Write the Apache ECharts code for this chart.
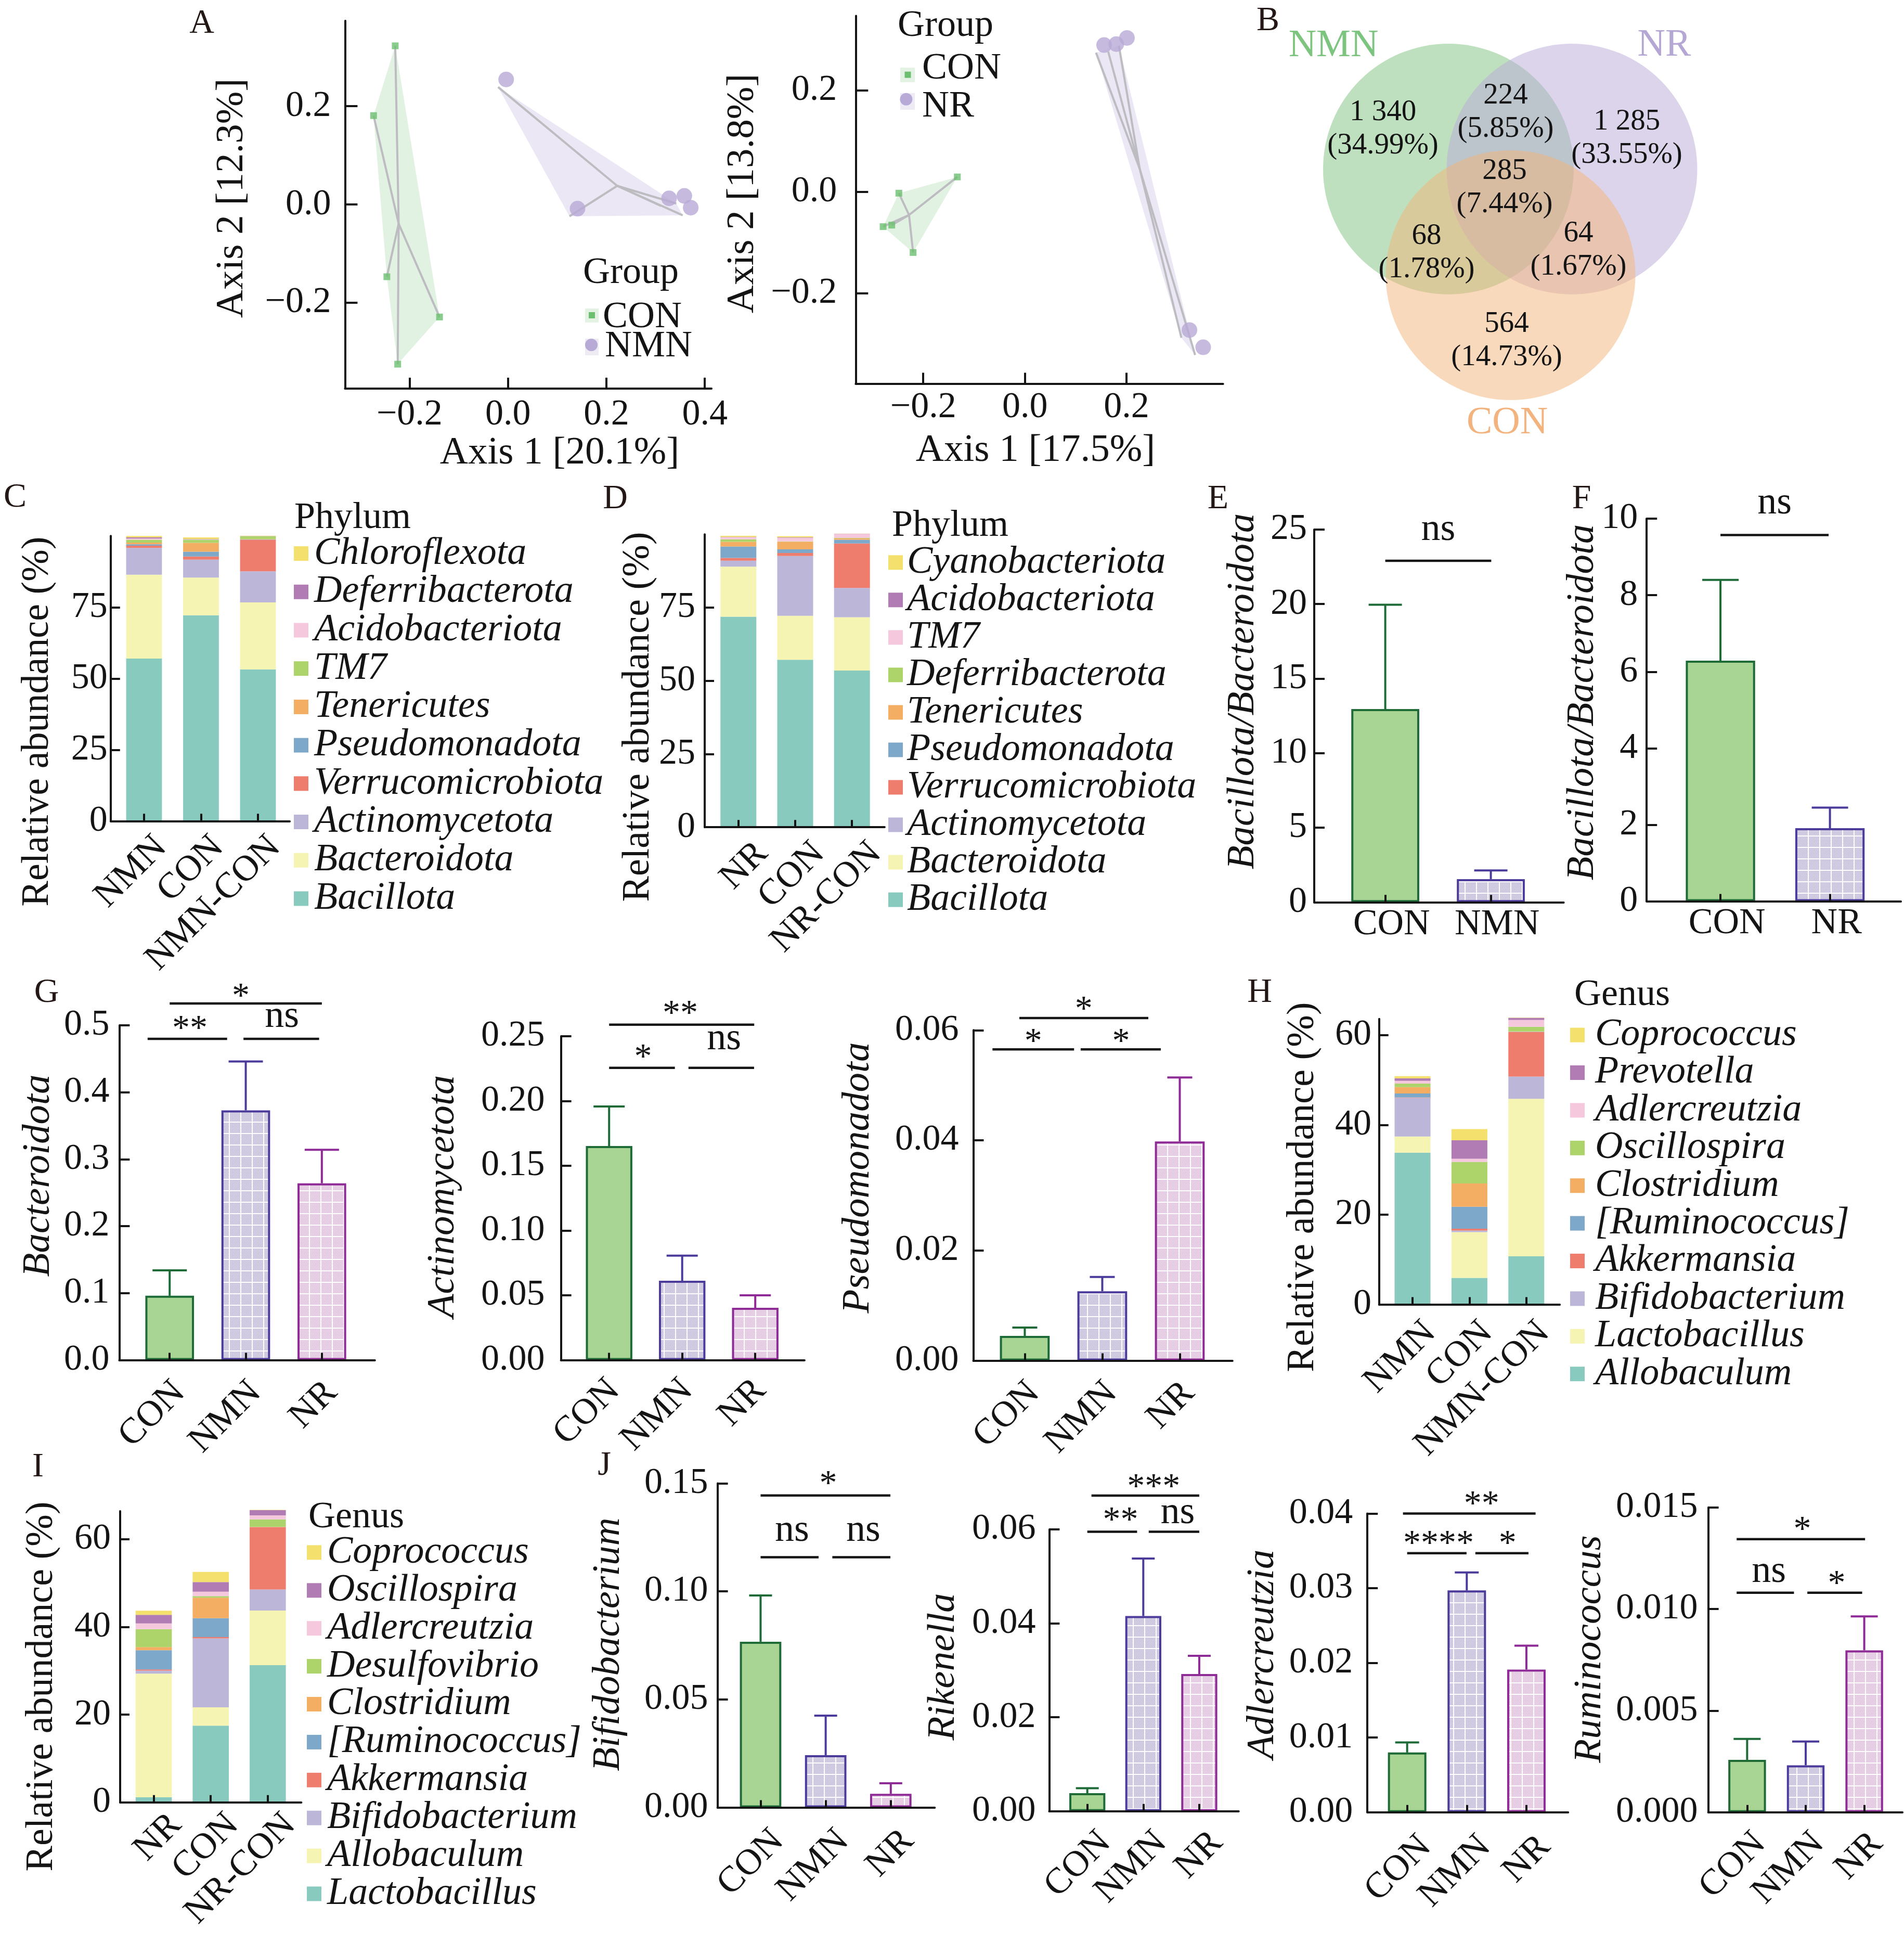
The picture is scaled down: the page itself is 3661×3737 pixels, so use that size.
<!DOCTYPE html>
<html><head><meta charset="utf-8"><title>Figure</title>
<script src="https://cdn.jsdelivr.net/npm/echarts@6/dist/echarts.min.js"></script>
<style>html,body{margin:0;padding:0;background:#fff;}#chart{width:3661px;height:3737px;}</style>
</head><body><div id="chart"></div>
<script>
// ===================== DATA =====================
// Panel A – PCoA coordinates [Axis 1, Axis 2]
const pcoaNmnCON = [[-0.229,0.323],[-0.273,0.181],[-0.246,-0.147],[-0.139,-0.229],[-0.224,-0.325]];
const pcoaNmnNMN = [[-0.020,0.239],[0.125,-0.024],[0.311,-0.003],[0.342,0.002],[0.355,-0.022]];
const pcoaNmnCentroids = [[-0.222,-0.039],[0.222,0.038]];
const pcoaNrCON = [[-0.248,-0.003],[-0.279,-0.069],[-0.262,-0.066],[-0.220,-0.120],[-0.133,0.029]];
const pcoaNrNR = [[0.140,0.274],[0.164,0.276],[0.185,0.288],[0.308,-0.288],[0.335,-0.322]];
const pcoaNrCentroids = [[-0.228,-0.046],[0.226,0.045]];
const pcoaXTicksA1 = [-0.2,0,0.2,0.4];
const pcoaXTicksA2 = [-0.2,0,0.2];
const pcoaYTicks = [-0.2,0,0.2];

// Panel B – Venn
const vennSets = ['NMN','NR','CON'];
const vennCounts = ['1 340','224','1 285','285','68','64','564'];
const vennShares = ['(34.99%)','(5.85%)','(33.55%)','(7.44%)','(1.78%)','(1.67%)','(14.73%)'];

// Panel C – phylum composition (bottom -> top)
const phylaC = ['Bacillota','Bacteroidota','Actinomycetota','Verrucomicrobiota','Pseudomonadota','Tenericutes','TM7','Acidobacteriota','Deferribacterota','Chloroflexota'];
const groupsC = ['NMN','CON','NMN-CON'];
const phylumC_NMN    = [57.0,29.4,9.4,0.8,0.5,0.6,1.0,0.4,0.4,0.5];
const phylumC_CON    = [72.2,13.2,6.3,1.1,1.7,3.1,1.1,0.1,0.1,0.6];
const phylumC_NMNCON = [53.2,23.5,10.9,11.1,0.1,0.1,1.0,0.05,0.05,0.1];

// Panel D – phylum composition (bottom -> top)
const phylaD = ['Bacillota','Bacteroidota','Actinomycetota','Verrucomicrobiota','Pseudomonadota','Tenericutes','Deferribacterota','TM7','Acidobacteriota','Cyanobacteriota'];
const groupsD = ['NR','CON','NR-CON'];
const phylumD_NR    = [71.9,17.1,2.0,0.95,3.9,1.6,0.85,0.7,0.1,0.4];
const phylumD_CON   = [57.2,15.0,20.4,1.05,1.25,2.6,0.1,1.25,0.1,0.4];
const phylumD_NRCON = [53.5,18.2,10.0,15.2,1.25,0.5,0.15,1.35,0.05,0.05];

// Panels E, F – Bacillota/Bacteroidota ratio (mean, upper end of error bar)
const ratioEGroups = ['CON','NMN'];
const ratioE = [12.96,1.55];
const ratioEUpper = [19.95,2.13];
const ratioFGroups = ['CON','NR'];
const ratioF = [6.29,1.91];
const ratioFUpper = [8.40,2.45];

// Panel G – phylum abundances
const barGroups = ['CON','NMN','NR'];
const bacteroidota = [0.096,0.373,0.264];
const bacteroidotaUpper = [0.134,0.446,0.314];
const actinomycetota = [0.1652,0.0612,0.0403];
const actinomycetotaUpper = [0.1958,0.0806,0.0500];
const pseudomonadota = [0.0045,0.0126,0.0398];
const pseudomonadotaUpper = [0.0060,0.0152,0.0514];

// Panel H – genus composition (bottom -> top)
const generaH = ['Allobaculum','Lactobacillus','Bifidobacterium','Akkermansia','[Ruminococcus]','Clostridium','Oscillospira','Adlercreutzia','Prevotella','Coprococcus'];
const groupsH = ['NMN','CON','NMN-CON'];
const genusH_NMN    = [33.8,3.6,8.6,0.1,0.9,1.4,0.8,0.6,0.55,0.5];
const genusH_CON    = [5.9,10.2,0.35,0.4,4.9,5.2,4.8,0.7,4.1,2.5];
const genusH_NMNCON = [10.7,35.1,4.95,9.95,0.05,0.05,1.05,1.5,0.5,0.05];

// Panel I – genus composition (bottom -> top)
const generaI = ['Lactobacillus','Allobaculum','Bifidobacterium','Akkermansia','[Ruminococcus]','Clostridium','Desulfovibrio','Adlercreutzia','Oscillospira','Coprococcus'];
const groupsI = ['NR','CON','NR-CON'];
const genusI_NR    = [1.16,28.2,0.7,0.25,4.4,0.7,4.1,1.3,1.95,0.95];
const genusI_CON   = [17.5,4.2,15.7,0.3,4.3,4.7,0.35,1.0,2.2,2.3];
const genusI_NRCON = [31.3,12.45,4.8,14.2,0.05,0.05,1.7,0.9,1.2,0.05];

// Panel J – genus abundances
const bifidobacterium = [0.0767,0.0242,0.0063];
const bifidobacteriumUpper = [0.0981,0.0425,0.0112];
const rikenella = [0.00385,0.04155,0.0292];
const rikenellaUpper = [0.0049,0.0538,0.0331];
const adlercreutzia = [0.0080,0.0297,0.0191];
const adlercreutziaUpper = [0.00935,0.0321,0.0223];
const ruminococcus = [0.00258,0.00231,0.00797];
const ruminococcusUpper = [0.00361,0.00348,0.00964];

// Significance brackets: [x from, x to, y of line, label, label x, label y]
const sigE  = [[0,1.004,22.9,'ns',0.502,24.69]];
const sigF  = [[0,0.988,9.573,'ns',0.494,10.28]];
const sigG1 = [[0,2,0.5326,'*',0.935,0.554],[-0.29,0.755,0.4797,'**',0.265,0.506],[0.97,1.964,0.4797,'ns',1.475,0.506]];
const sigG2 = [[0,1.986,0.2589,'**',0.974,0.2729],[0,0.9,0.2256,'*',0.465,0.2392],[1.086,1.984,0.2256,'ns',1.572,0.2443]];
const sigG3 = [[-0.07,1.594,0.0622,'*',0.76,0.0651],[-0.417,0.636,0.0565,'*',0.11,0.0592],[0.721,1.755,0.0565,'*',1.242,0.0592]];
const sigJ1 = [[0,1.994,0.1444,'*',1.038,0.1532],[0,0.891,0.1158,'ns',0.483,0.126],[1.102,1.994,0.1158,'ns',1.578,0.126]];
const sigJ2 = [[0.074,2.0,0.0672,'***',1.185,0.0706],[0,0.889,0.0595,'**',0.593,0.0635],[1.097,2.0,0.0595,'ns',1.615,0.0625]];
const sigJ3 = [[-0.07,2.154,0.04,'**',1.249,0.0422],[0,0.996,0.03468,'****',0.527,0.0369],[1.144,2.035,0.03468,'*',1.684,0.0369]];
const sigJ4 = [[-0.179,2.014,0.01344,'*',0.943,0.01427],[-0.179,0.8,0.0108,'ns',0.371,0.01161],[1.028,1.964,0.0108,'*',1.528,0.01161]];

// ===================== STYLE / LAYOUT =====================
const FONT = '"Liberation Serif","Times New Roman",serif';
const TXT = '#141414';
const AX = '#141414';
const LW = 4;
const stackPalette = ['#88cbbe','#f6f4b3','#bcb6d8','#ee7d6e','#7ea8c9','#f3ae63','#add36b','#f6c8de','#b07cb3','#f4e06c'];

function makePattern(base, dot) {
  const s = 22, c = document.createElement('canvas'); c.width = s; c.height = s;
  const g = c.getContext('2d');
  g.fillStyle = base; g.fillRect(0, 0, s, s);
  g.fillStyle = dot;
  for (let y = 3, r = 0; y < s; y += 3, r++) for (let x = 3 + (r % 2); x < s; x += 3) g.fillRect(x, y, 1, 1);
  g.fillStyle = '#ffffff'; g.fillRect(0, 0, s, 2); g.fillRect(0, 0, 2, s);
  return { image: c, repeat: 'repeat' };
}
const barStyles = {
  con: { color: '#a8d594', borderColor: '#1e6b38', borderWidth: 4 },
  nmn: { color: makePattern('#d3cde4', '#bdb5d6'), borderColor: '#4c3b9b', borderWidth: 4 },
  nr:  { color: makePattern('#e8d0e6', '#d6b8d5'), borderColor: '#8e2b96', borderWidth: 4 }
};

const option = {
  animation: false, backgroundColor: '#ffffff', textStyle: { fontFamily: FONT },
  grid: [], xAxis: [], yAxis: [], series: [], legend: [], graphic: { elements: [] }
};
const GR = option.graphic.elements;

function addGrid(r) {
  option.grid.push({ left: r[0], top: r[1], width: r[2], height: r[3], containLabel: false, outerBoundsMode: 'none' });
  return option.grid.length - 1;
}
function fmtDec(d) { return v => (v < -1e-9 ? '\u2212' : '') + Math.abs(v).toFixed(d); }
function numAxis(gi, dim, range, ticks, dec, margin, tickLen) {
  return { type: 'value', gridIndex: gi, min: range[0], max: range[1], position: dim === 'x' ? 'bottom' : 'left', z: 10,
    axisLine: { show: true, onZero: false, lineStyle: { color: AX, width: LW } },
    axisTick: { show: true, inside: true, length: tickLen, customValues: ticks, lineStyle: { color: AX, width: LW } },
    axisLabel: { show: true, customValues: ticks, margin: margin, formatter: fmtDec(dec), fontFamily: FONT, fontSize: 70, color: TXT },
    splitLine: { show: false } };
}
function catAxis(gi, P) {
  const sh = P.xShift, idx = P.cats.map((c, i) => i);
  return { type: 'value', gridIndex: gi, min: P.xr[0], max: P.xr[1], position: 'bottom', z: 10,
    axisLine: { show: true, onZero: false, lineStyle: { color: AX, width: LW } },
    axisTick: { show: true, inside: true, length: 14, customValues: idx, lineStyle: { color: AX, width: LW } },
    axisLabel: { show: true, customValues: idx.map(i => i + sh), formatter: v => P.cats[Math.round(v - sh)],
      margin: P.xlm, rotate: P.rotate, fontFamily: FONT, fontSize: 70, color: TXT },
    splitLine: { show: false } };
}
function gtext(x, y, text, fs, o) {
  o = o || {};
  const al = o.align || 'center';
  GR.push({ type: 'text', x: x, y: y, rotation: o.rot || 0, silent: true, z: 20,
    style: { text: text, font: (o.italic ? 'italic ' : '') + fs + 'px ' + FONT, fill: o.color || TXT,
      textAlign: al, textVerticalAlign: 'middle', align: al, verticalAlign: 'middle' } });
}
function convexHull(pts) {
  const p = pts.slice().sort((a, b) => a[0] - b[0] || a[1] - b[1]);
  const cr = (o, a, b) => (a[0] - o[0]) * (b[1] - o[1]) - (a[1] - o[1]) * (b[0] - o[0]);
  const lo = [], up = [];
  for (const q of p) { while (lo.length >= 2 && cr(lo[lo.length - 2], lo[lo.length - 1], q) <= 0) lo.pop(); lo.push(q); }
  for (let i = p.length - 1; i >= 0; i--) { const q = p[i]; while (up.length >= 2 && cr(up[up.length - 2], up[up.length - 1], q) <= 0) up.pop(); up.push(q); }
  up.pop(); lo.pop(); return lo.concat(up);
}

// ---------- PCoA panels ----------
function pcoaPanel(P) {
  const gi = addGrid(P.rect);
  option.xAxis.push(numAxis(gi, 'x', P.xr, P.xticks, 1, P.xlm, 21));
  option.yAxis.push(numAxis(gi, 'y', P.yr, pcoaYTicks, 1, P.ylm, 24));
  const groups = [
    { pts: P.con, cen: P.cen[0], fill: 'rgba(108,191,112,0.20)' },
    { pts: P.trt, cen: P.cen[1], fill: 'rgba(184,170,214,0.28)' }];
  option.series.push({ type: 'custom', xAxisIndex: gi, yAxisIndex: gi, clip: false, silent: true, z: 2,
    data: P.cen,
    renderItem: (params, api) => {
      const g = groups[params.dataIndex];
      const px = g.pts.map(p => api.coord(p));
      const c = api.coord(g.cen);
      const ch = [{ type: 'polygon', shape: { points: convexHull(px) }, style: { fill: g.fill } }];
      px.forEach(p => ch.push({ type: 'line', shape: { x1: c[0], y1: c[1], x2: p[0], y2: p[1] }, style: { stroke: '#bcbcc1', lineWidth: 4 } }));
      return { type: 'group', children: ch };
    } });
  option.series.push({ type: 'scatter', xAxisIndex: gi, yAxisIndex: gi, symbol: 'rect', symbolSize: 13, silent: true, z: 4,
    itemStyle: { color: '#6cbf70' }, data: P.con });
  option.series.push({ type: 'scatter', xAxisIndex: gi, yAxisIndex: gi, symbol: 'circle', symbolSize: 30, symbolOffset: [15.5, -14.7], silent: true, z: 4,
    itemStyle: { color: '#b8aad6' }, data: P.trt });
}
pcoaPanel({ rect: [663.4, 39.9, 704.6, 707], xr: [-0.331, 0.4135], yr: [-0.3746, 0.374], xticks: pcoaXTicksA1, xlm: 16, ylm: 27,
  con: pcoaNmnCON, trt: pcoaNmnNMN, cen: pcoaNmnCentroids });
pcoaPanel({ rect: [1645.3, 30.5, 706.4, 707], xr: [-0.333, 0.390], yr: [-0.3786, 0.3466], xticks: pcoaXTicksA2, xlm: 11, ylm: 36,
  con: pcoaNrCON, trt: pcoaNrNR, cen: pcoaNrCentroids });

// PCoA legends
function pcoaLegend(L) {
  gtext(L.gx, L.gy, 'Group', 72, { align: 'left' });
  GR.push({ type: 'rect', shape: { x: L.p1[0], y: L.p1[1], width: L.p1[2], height: L.p1[3] }, style: { fill: '#e3f2e3' }, silent: true });
  GR.push({ type: 'rect', shape: { x: L.s1[0] - 6, y: L.s1[1] - 6, width: 12, height: 12 }, style: { fill: '#6cbf70' }, silent: true });
  gtext(L.t1[0], L.t1[1], 'CON', 72, { align: 'left' });
  GR.push({ type: 'rect', shape: { x: L.p2[0], y: L.p2[1], width: L.p2[2], height: L.p2[3] }, style: { fill: '#eeebf5' }, silent: true });
  GR.push({ type: 'circle', shape: { cx: L.s2[0], cy: L.s2[1], r: 12 }, style: { fill: '#b8aad6' }, silent: true });
  gtext(L.t2[0], L.t2[1], L.name2, 72, { align: 'left' });
}
pcoaLegend({ gx: 1121, gy: 525, p1: [1125, 593, 26, 27], s1: [1138, 606], t1: [1159, 610], p2: [1125, 651, 26, 32], s2: [1137, 663], t2: [1163, 666], name2: 'NMN' });
pcoaLegend({ gx: 1726, gy: 50, p1: [1731, 130, 28, 28], s1: [1745.5, 143.7], t1: [1773, 132], p2: [1731, 179, 28, 32], s2: [1742.4, 190.7], t2: [1773, 205], name2: 'NR' });

// ---------- Venn (panel B) ----------
(function () {
  const gi = addGrid([2400, 0, 1261, 920]);
  option.xAxis.push({ type: 'value', gridIndex: gi, min: 0, max: 1261, show: false });
  option.yAxis.push({ type: 'value', gridIndex: gi, min: 0, max: 920, inverse: true, show: false });
  const circles = [[385, 325, 241], [622.5, 325, 241], [504.5, 529, 240]];
  const fills = ['rgba(126,194,126,0.5)', 'rgba(185,170,215,0.5)', 'rgba(244,180,120,0.5)'];
  option.series.push({ type: 'custom', xAxisIndex: gi, yAxisIndex: gi, clip: false, silent: true, z: 2,
    data: circles,
    renderItem: (p, api) => {
      const c = api.coord([api.value(0), api.value(1)]);
      const r = api.size([api.value(2), 0])[0];
      return { type: 'circle', shape: { cx: c[0], cy: c[1], r: r }, style: { fill: fills[p.dataIndex] } };
    } });
  const labelPos = [[259, 248], [495, 216], [728, 266], [493, 361], [343, 486], [635, 481], [497, 655]];
  option.series.push({ type: 'custom', xAxisIndex: gi, yAxisIndex: gi, clip: false, silent: true, z: 3,
    data: labelPos,
    renderItem: (p, api) => {
      const c = api.coord([api.value(0), api.value(1)]);
      const i = p.dataIndex;
      return { type: 'group', children: [
        { type: 'text', x: c[0], y: c[1] - 32, style: { text: vennCounts[i], font: '57px ' + FONT, fill: TXT, textAlign: 'center', textVerticalAlign: 'middle', align: 'center', verticalAlign: 'middle' } },
        { type: 'text', x: c[0], y: c[1] + 32, style: { text: vennShares[i], font: '57px ' + FONT, fill: TXT, textAlign: 'center', textVerticalAlign: 'middle', align: 'center', verticalAlign: 'middle' } }] };
    } });
  const setPos = [[164, 89], [800, 88], [498, 814]];
  const setColors = ['#7dc47f', '#b4a7d4', '#f3b37e'];
  option.series.push({ type: 'custom', xAxisIndex: gi, yAxisIndex: gi, clip: false, silent: true, z: 3,
    data: setPos,
    renderItem: (p, api) => {
      const c = api.coord([api.value(0), api.value(1)]);
      return { type: 'text', x: c[0], y: c[1], style: { text: vennSets[p.dataIndex], font: '74px ' + FONT, fill: setColors[p.dataIndex], textAlign: 'center', textVerticalAlign: 'middle', align: 'center', verticalAlign: 'middle' } };
    } });
})();

// ---------- stacked composition panels ----------
const LEG_FS = 74;
function addLegend(names, colors, left, firstCenter, spacing, padL) {
  option.legend.push({ show: true, orient: 'vertical', left: left, top: firstCenter - LEG_FS / 2, padding: 0,
    width: 900, height: spacing * 10 + 40,
    itemWidth: 28, itemHeight: 28, itemGap: spacing - LEG_FS, icon: 'rect', selectedMode: false,
    textStyle: { fontFamily: FONT, fontSize: LEG_FS, fontStyle: 'italic', color: TXT, padding: [0, 0, 0, padL] },
    data: names.map((n, i) => ({ name: n, icon: 'rect', itemStyle: { color: colors[i] } })) });
}
function stackPanel(P) {
  const gi = addGrid(P.rect);
  option.xAxis.push(catAxis(gi, P));
  option.yAxis.push(numAxis(gi, 'y', P.yr, P.yticks, 0, P.ylm, 18));
  P.taxa.forEach((t, k) => {
    const col = stackPalette[k];
    option.series.push({ type: 'custom', name: t + P.sfx, xAxisIndex: gi, yAxisIndex: gi, silent: true, z: 2, clip: false,
      itemStyle: { color: col },
      // [group index, segment value, segment base = sum of the segments below it]
      data: P.values.map((c, i) => [i, c[k], c.slice(0, k).reduce((a, b) => a + b, 0)]),
      renderItem: (p, api) => {
        const x = api.value(0), v = api.value(1), b = api.value(2);
        const top = api.coord([x, b + v]), bot = api.coord([x, b]);
        return { type: 'rect', shape: { x: top[0] - P.barW / 2, y: top[1], width: P.barW, height: bot[1] - top[1] }, style: { fill: col } };
      } });
  });
  const rev = P.taxa.map((t, k) => k).reverse();
  addLegend(rev.map(k => P.taxa[k] + P.sfx), rev.map(k => stackPalette[k]), P.leg[0], P.leg[1], P.leg[2], P.leg[3]);
  gtext(P.title[0], P.title[1], P.title[2], 72, { align: 'left' });
}
stackPanel({ rect: [212.8, 1030.3, 344.2, 548], xr: [-0.586, 2.557], yr: [0, 100], yticks: [0, 25, 50, 75], ylm: 6,
  cats: groupsC, xShift: 0.3, xlm: 40, rotate: 45, barW: 68.8, taxa: phylaC, sfx: '',
  values: [phylumC_NMN, phylumC_CON, phylumC_NMNCON], leg: [565, 1064.1, 73.7, 6], title: [566, 996, 'Phylum'] });
stackPanel({ rect: [1355, 1027.2, 345.9, 563], xr: [-0.593, 2.574], yr: [0, 100], yticks: [0, 25, 50, 75], ylm: 18,
  cats: groupsD, xShift: 0.42, xlm: 40, rotate: 45, barW: 69, taxa: phylaD, sfx: '\u200b',
  values: [phylumD_NR, phylumD_CON, phylumD_NRCON], leg: [1708, 1081.3, 72.03, 3], title: [1715, 1011, 'Phylum'] });
stackPanel({ rect: [2651.7, 1958.7, 347.4, 548.7], xr: [-0.588, 2.588], yr: [0, 63.6], yticks: [0, 20, 40, 60], ylm: 14.7,
  cats: groupsH, xShift: 0.31, xlm: 44, rotate: 45, barW: 69, taxa: generaH, sfx: '',
  values: [genusH_NMN, genusH_CON, genusH_NMNCON], leg: [3019, 1989.6, 72.4, 15], title: [3027, 1913.5, 'Genus'] });
stackPanel({ rect: [231, 2905.1, 348.4, 559.7], xr: [-0.589, 2.589], yr: [0, 66.4], yticks: [0, 20, 40, 60], ylm: 18,
  cats: groupsI, xShift: 0.39, xlm: 33, rotate: 45, barW: 69.6, taxa: generaI, sfx: '\u200b',
  values: [genusI_NR, genusI_CON, genusI_NRCON], leg: [590, 2984.4, 72.9, 6], title: [593, 2917, 'Genus'] });

// ---------- bar + error + significance panels ----------
function barPanel(P) {
  const gi = addGrid(P.rect);
  option.xAxis.push(catAxis(gi, P));
  option.yAxis.push(numAxis(gi, 'y', P.yr, P.yticks, P.dec, P.ylm, 20));
  option.series.push({ type: 'bar', xAxisIndex: gi, yAxisIndex: gi, barWidth: P.barW, silent: true, z: 2,
    data: P.vals.map((v, i) => ({ value: [i, v], itemStyle: barStyles[P.styles[i]] })) });
  option.series.push({ type: 'custom', xAxisIndex: gi, yAxisIndex: gi, clip: false, silent: true, z: 4,
    data: P.vals.map((v, i) => [i, v, P.upper[i]]),
    renderItem: (p, api) => {
      const a = api.coord([api.value(0), api.value(1)]);
      const b = api.coord([api.value(0), api.value(2)]);
      const col = barStyles[P.styles[p.dataIndex]].borderColor, w = P.capW / 2;
      return { type: 'group', children: [
        { type: 'line', shape: { x1: a[0], y1: a[1], x2: b[0], y2: b[1] }, style: { stroke: col, lineWidth: 4 } },
        { type: 'line', shape: { x1: b[0] - w, y1: b[1], x2: b[0] + w, y2: b[1] }, style: { stroke: col, lineWidth: 4 } }] };
    } });
  option.series.push({ type: 'custom', xAxisIndex: gi, yAxisIndex: gi, clip: false, silent: true, z: 4,
    data: P.sig.map(s => [s[0], s[2]]),
    renderItem: (p, api) => {
      const s = P.sig[p.dataIndex];
      const p1 = api.coord([s[0], s[2]]), p2 = api.coord([s[1], s[2]]), t = api.coord([s[4], s[5]]);
      const star = s[3].indexOf('*') >= 0, fs = star ? 68 : 74;
      const ty = star ? t[1] + 0.23 * fs : t[1] - 0.115 * fs;
      return { type: 'group', children: [
        { type: 'line', shape: { x1: p1[0], y1: p1[1], x2: p2[0], y2: p2[1] }, style: { stroke: AX, lineWidth: 4.5 } },
        { type: 'text', x: t[0], y: ty, style: { text: s[3], font: fs + 'px ' + FONT, fill: TXT, textAlign: 'center', textVerticalAlign: 'middle', align: 'center', verticalAlign: 'middle' } }] };
    } });
}
barPanel({ rect: [2527, 1017.9, 479.6, 716.4], xr: [-0.673, 1.690], yr: [0, 25], yticks: [0, 5, 10, 15, 20, 25], dec: 0, ylm: 14,
  cats: ratioEGroups, xShift: 0.06, xlm: 8, rotate: 0, styles: ['con', 'nmn'], vals: ratioE, upper: ratioEUpper, barW: 130.7, capW: 64, sig: sigE });
barPanel({ rect: [3166.2, 997.1, 488.8, 735.5], xr: [-0.674, 1.648], yr: [0, 10], yticks: [0, 2, 4, 6, 8, 10], dec: 0, ylm: 17,
  cats: ratioFGroups, xShift: 0.06, xlm: 8, rotate: 0, styles: ['con', 'nmn'], vals: ratioF, upper: ratioFUpper, barW: 133.3, capW: 70, sig: sigF });
barPanel({ rect: [229.4, 1971, 491.4, 643.4], xr: [-0.662, 2.697], yr: [0, 0.5], yticks: [0, 0.1, 0.2, 0.3, 0.4, 0.5], dec: 1, ylm: 19,
  cats: barGroups, xShift: 0.13, xlm: 52, rotate: 45, styles: ['con', 'nmn', 'nr'], vals: bacteroidota, upper: bacteroidotaUpper, barW: 93.6, capW: 66, sig: sigG1 });
barPanel({ rect: [1078.6, 1992, 468.3, 622.4], xr: [-0.659, 2.674], yr: [0, 0.25], yticks: [0, 0.05, 0.1, 0.15, 0.2, 0.25], dec: 2, ylm: 31,
  cats: barGroups, xShift: 0.07, xlm: 48, rotate: 45, styles: ['con', 'nmn', 'nr'], vals: actinomycetota, upper: actinomycetotaUpper, barW: 89.4, capW: 60, sig: sigG2 });
barPanel({ rect: [1871.5, 1980.3, 498.3, 635.3], xr: [-0.664, 2.68], yr: [0, 0.06], yticks: [0, 0.02, 0.04, 0.06], dec: 2, ylm: 28,
  cats: barGroups, xShift: 0.12, xlm: 52, rotate: 45, styles: ['con', 'nmn', 'nr'], vals: pseudomonadota, upper: pseudomonadotaUpper, barW: 95.7, capW: 48, sig: sigG3 });
barPanel({ rect: [1379.6, 2851.4, 417.7, 623.1], xr: [-0.662, 2.675], yr: [0, 0.15], yticks: [0, 0.05, 0.1, 0.15], dec: 2, ylm: 18,
  cats: barGroups, xShift: 0.27, xlm: 54, rotate: 45, styles: ['con', 'nmn', 'nr'], vals: bifidobacterium, upper: bifidobacteriumUpper, barW: 79.7, capW: 44, sig: sigJ1 });
barPanel({ rect: [2017.4, 2940, 364.3, 541.8], xr: [-0.681, 2.704], yr: [0, 0.06], yticks: [0, 0.02, 0.04, 0.06], dec: 2, ylm: 26,
  cats: barGroups, xShift: 0.32, xlm: 50, rotate: 45, styles: ['con', 'nmn', 'nr'], vals: rikenella, upper: rikenellaUpper, barW: 69.3, capW: 44, sig: sigJ2 });
barPanel({ rect: [2629.2, 2909.4, 386, 574.3], xr: [-0.667, 2.70], yr: [0, 0.04], yticks: [0, 0.01, 0.02, 0.03, 0.04], dec: 2, ylm: 28,
  cats: barGroups, xShift: 0.31, xlm: 56, rotate: 45, styles: ['con', 'nmn', 'nr'], vals: adlercreutzia, upper: adlercreutziaUpper, barW: 74, capW: 46, sig: sigJ3 });
barPanel({ rect: [3284.6, 2897.8, 373.4, 585.9], xr: [-0.664, 2.652], yr: [0, 0.015], yticks: [0, 0.005, 0.01, 0.015], dec: 3, ylm: 20,
  cats: barGroups, xShift: 0.22, xlm: 50, rotate: 45, styles: ['con', 'nmn', 'nr'], vals: ruminococcus, upper: ruminococcusUpper, barW: 72.4, capW: 52, sig: sigJ4 });

// ---------- texts: panel letters, axis titles ----------
[['A', 388, 46], ['B', 2438, 41], ['C', 29, 957], ['D', 1183, 960], ['E', 2342, 960], ['F', 3041, 960],
 ['G', 89.5, 1909], ['H', 2422, 1909], ['I', 73, 2821], ['J', 1162, 2818]].forEach(l => gtext(l[1], l[2], l[0], 66, { color: '#231815' }));
const R90 = Math.PI / 2;
gtext(446, 381, 'Axis 2 [12.3%]', 75, { rot: R90 });
gtext(1076, 871, 'Axis 1 [20.1%]', 75);
gtext(1428, 372, 'Axis 2 [13.8%]', 75, { rot: R90 });
gtext(1991, 866, 'Axis 1 [17.5%]', 75);
gtext(73, 1387, 'Relative abundance (%)', 74, { rot: R90 });
gtext(1228, 1378, 'Relative abundance (%)', 74, { rot: R90 });
gtext(2390, 1329, 'Bacillota/Bacteroidota', 75, { rot: R90, italic: true });
gtext(3043, 1350, 'Bacillota/Bacteroidota', 75, { rot: R90, italic: true });
gtext(74, 2260, 'Bacteroidota', 75, { rot: R90, italic: true });
gtext(852, 2300, 'Actinomycetota', 75, { rot: R90, italic: true });
gtext(1650, 2264, 'Pseudomonadota', 75, { rot: R90, italic: true });
gtext(2506, 2282, 'Relative abundance (%)', 74, { rot: R90 });
gtext(81, 3242, 'Relative abundance (%)', 74, { rot: R90 });
gtext(1170, 3161, 'Bifidobacterium', 75, { rot: R90, italic: true });
gtext(1814, 3204, 'Rikenella', 75, { rot: R90, italic: true });
gtext(2428, 3180, 'Adlercreutzia', 75, { rot: R90, italic: true });
gtext(3057, 3170, 'Ruminococcus', 75, { rot: R90, italic: true });

const chart = echarts.init(document.getElementById('chart'), null, { renderer: 'canvas', width: 3661, height: 3737 });
chart.setOption(option);
</script></body></html>
